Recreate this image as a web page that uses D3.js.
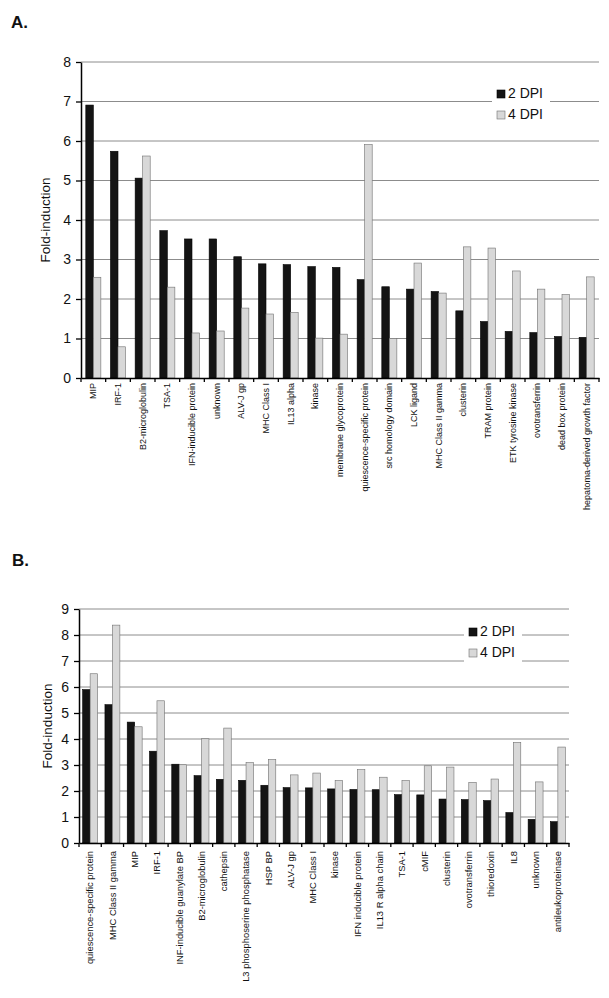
<!DOCTYPE html>
<meta charset="utf-8">
<style>
body { margin: 0; background: #fff; }
text { font-family: "Liberation Sans", Arial, sans-serif; fill: #111; }
.panel { font: bold 17px "Liberation Sans", Arial, sans-serif; }
.grid line { stroke: #8c8c8c; stroke-width: 1; }
</style>
<body>
<script src="https://cdn.jsdelivr.net/npm/d3@7"></script>
<script>

// panel A
var genesA = ["MIP", "IRF-1", "B2-microglobulin", "TSA-1", "IFN-inducible protein", "unknown",
  "ALV-J gp", "MHC Class I", "IL13 alpha", "kinase", "membrane glycoprotein",
  "quiescence-specific protein", "src homology domain", "LCK ligand", "MHC Class II gamma",
  "clusterin", "TRAM protein", "ETK tyrosine kinase", "ovotransferrin", "dead box protein",
  "hepatoma-derived growth factor"];
var dpi2A = [6.91, 5.74, 5.06, 3.73, 3.52, 3.52, 3.07, 2.89, 2.87, 2.82, 2.80,
  2.49, 2.31, 2.25, 2.19, 1.70, 1.43, 1.18, 1.15, 1.05, 1.03];
var dpi4A = [2.55, 0.79, 5.62, 2.30, 1.14, 1.19, 1.77, 1.62, 1.66, 1.01, 1.11,
  5.91, 1.00, 2.91, 2.15, 3.32, 3.29, 2.71, 2.25, 2.11, 2.56];
var ticksA = [0, 1, 2, 3, 4, 5, 6, 7, 8];

// panel B
var genesB = ["quiescence-specific protein", "MHC Class II gamma", "MIP", "IRF-1",
  "INF-inducible guanylate BP", "B2-microglobulin", "cathepsin", "L3 phosphoserine phosphatase",
  "HSP BP", "ALV-J gp", "MHC Class I", "kinase", "IFN inducible protein", "IL13 R alpha chain",
  "TSA-1", "cMIF", "clusterin", "ovotransferrin", "thioredoxin", "IL8", "unknown",
  "antileukoproteinase"];
var dpi2B = [5.90, 5.32, 4.65, 3.53, 3.03, 2.59, 2.45, 2.41, 2.22, 2.13, 2.12,
  2.08, 2.06, 2.05, 1.86, 1.85, 1.69, 1.67, 1.63, 1.17, 0.91, 0.82];
var dpi4B = [6.51, 8.38, 4.47, 5.47, 3.01, 4.01, 4.42, 3.09, 3.21, 2.62, 2.69,
  2.40, 2.82, 2.53, 2.40, 2.97, 2.92, 2.33, 2.46, 3.87, 2.35, 3.69];
var ticksB = [0, 1, 2, 3, 4, 5, 6, 7, 8, 9];

var seriesNames = ["2 DPI", "4 DPI"];
var fills = ["#141414", "#d8d8d8"];
var strokes = ["#000", "#707070"];

var svg = d3.select("body").append("svg")
  .attr("width", 609)
  .attr("height", 998);

function drawChart(o) {
  var g = svg.append("g");

  g.append("text").attr("class", "panel")
    .attr("x", o.panelX).attr("y", o.panelY).text(o.panel);

  var x = d3.scaleBand()
    .domain(o.genes)
    .range([o.left, o.right])
    .paddingInner(o.pad)
    .paddingOuter(o.pad / 2);

  var y = d3.scaleLinear()
    .domain([0, d3.max(o.ticks)])
    .range([o.bottom, o.top]);

  var x1 = d3.scaleBand()
    .domain([0, 1])
    .range([0, x.bandwidth()]);

  // gridlines
  g.append("g").attr("class", "grid")
    .selectAll("line")
    .data(o.ticks.slice(1))
    .enter().append("line")
    .attr("x1", o.left).attr("x2", o.right)
    .attr("y1", function(d) { return y(d); })
    .attr("y2", function(d) { return y(d); });

  // bars
  var rows = o.genes.map(function(name, i) { return {name: name, v: [o.s1[i], o.s2[i]]}; });
  var grp = g.selectAll(".gene")
    .data(rows)
    .enter().append("g")
    .attr("transform", function(d) { return "translate(" + x(d.name) + ",0)"; });
  grp.selectAll("rect")
    .data(function(d) { return d.v; })
    .enter().append("rect")
    .attr("x", function(d, i) { return x1(i); })
    .attr("width", x1.bandwidth())
    .attr("y", function(d) { return y(d); })
    .attr("height", function(d) { return o.bottom - y(d); })
    .style("fill", function(d, i) { return fills[i]; })
    .style("stroke", function(d, i) { return strokes[i]; })
    .style("stroke-width", 0.6);

  // y axis
  var yAxis = g.append("g")
    .attr("transform", "translate(" + o.left + ",0)")
    .call(d3.axisLeft(y).tickValues(o.ticks).tickSize(5).tickPadding(5).tickSizeOuter(0));
  yAxis.selectAll("text").style("font-size", "14px").style("font-family", "Liberation Sans, Arial, sans-serif");
  yAxis.selectAll("line").style("stroke", "#000").style("stroke-width", 1.3);
  yAxis.select(".domain").style("stroke", "#000").style("stroke-width", 1.5);

  // x axis: labels at band centres, ticks at band edges
  var xAxis = g.append("g")
    .attr("transform", "translate(0," + o.bottom + ")")
    .call(d3.axisBottom(x).tickSize(0).tickPadding(0).tickSizeOuter(0));
  xAxis.select(".domain").style("stroke", "#000").style("stroke-width", 1.5);
  xAxis.selectAll(".tick text")
    .attr("transform", "rotate(-90)")
    .attr("text-anchor", "end")
    .attr("x", -o.labelGap)
    .attr("y", 0)
    .attr("dy", "0.35em")
    .style("font-size", o.labelSize + "px")
    .style("font-family", "Liberation Sans, Arial, sans-serif");

  var edges = o.genes.map(function(d) { return x(d) - x.step() * x.paddingOuter(); });
  edges.push(o.right);
  xAxis.selectAll(".edge")
    .data(edges)
    .enter().append("line")
    .attr("x1", function(d) { return d; }).attr("x2", function(d) { return d; })
    .attr("y1", 0).attr("y2", 4)
    .style("stroke", "#000").style("stroke-width", 1.3);

  // y title
  g.append("text")
    .attr("transform", "translate(" + o.titleX + "," + ((o.top + o.bottom) / 2) + ") rotate(-90)")
    .attr("text-anchor", "middle")
    .style("font-size", "13.5px")
    .text("Fold-induction");

  // legend
  var leg = g.append("g").attr("transform", "translate(" + o.legX + "," + o.legY + ")");
  leg.append("rect").attr("x", -5).attr("y", -12).attr("width", 58).attr("height", 40).style("fill", "#fff");
  seriesNames.forEach(function(s, i) {
    leg.append("rect")
      .attr("x", 0).attr("y", i * 21 - 8)
      .attr("width", 8).attr("height", 8)
      .style("fill", fills[i]).style("stroke", strokes[i]).style("stroke-width", 0.6);
    leg.append("text")
      .attr("x", 11).attr("y", i * 21)
      .style("font-size", "14px")
      .text(s);
  });
}

drawChart({
  panel: "A.", panelX: 11, panelY: 28,
  genes: genesA, s1: dpi2A, s2: dpi4A, ticks: ticksA,
  left: 81, right: 599, top: 62, bottom: 378, pad: 0.39,
  labelGap: 5, labelSize: 9, titleX: 50,
  legX: 497, legY: 98
});

drawChart({
  panel: "B.", panelX: 12, panelY: 566,
  genes: genesB, s1: dpi2B, s2: dpi4B, ticks: ticksB,
  left: 79, right: 569, top: 609, bottom: 843, pad: 0.33,
  labelGap: 8, labelSize: 9.4, titleX: 52,
  legX: 469, legY: 636
});

</script>
